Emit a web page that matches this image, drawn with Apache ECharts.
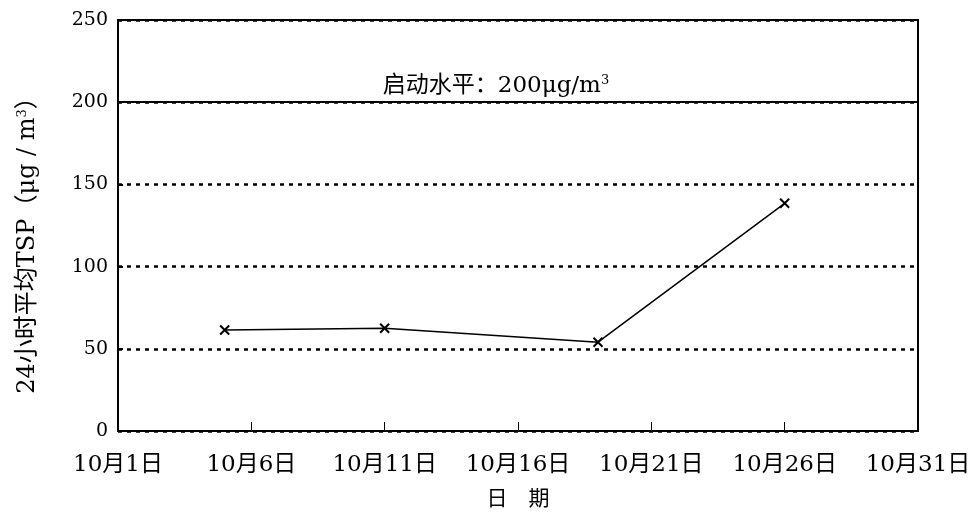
<!DOCTYPE html>
<html>
<head>
<meta charset="utf-8">
<script src="https://cdn.jsdelivr.net/npm/echarts@6/dist/echarts.min.js"></script>
<style>
  html, body { margin: 0; padding: 0; background: #fff; }
  #chart { width: 970px; height: 514px; }
</style>
</head>
<body>
<div id="chart"></div>
<script>
// days counted from 10月1日 (0 = 10月1日)
const dayOffsets = [4, 10, 18, 25];
const tspValues = [61.4, 62.5, 54, 138.5];
const yTicks = [0, 50, 100, 150, 200, 250];
const startLevel = 200;

const FONT = '"DejaVu Serif", "Noto Sans CJK SC", serif';

const myChart = echarts.init(document.getElementById('chart'));

const seriesData = dayOffsets.map((d, i) => [d, tspValues[i]]);
const supStyle = { fontSize: 13, verticalAlign: 'top', padding: [0, 0, 10, 0], fontFamily: FONT, color: '#000' };

myChart.setOption({
  animation: false,
  textStyle: { fontFamily: FONT, color: '#000' },
  grid: {
    left: 118, right: 52, top: 20, bottom: 83,
    outerBoundsMode: 'none',
    containLabel: false,
    show: true,
    borderColor: '#000',
    borderWidth: 2,
  },
  xAxis: {
    type: 'value',
    min: 0,
    max: 30,
    interval: 5,
    name: '日　期',
    nameLocation: 'middle',
    nameGap: 58,
    nameTextStyle: { fontFamily: FONT, fontSize: 21, color: '#000' },
    axisLine: { show: true, lineStyle: { color: '#000', width: 2 } },
    axisTick: { show: true, inside: true, length: 9, lineStyle: { color: '#000', width: 1 } },
    axisLabel: {
      margin: 23,
      fontFamily: FONT,
      fontSize: 23,
      color: '#000',
      formatter: (v) => '10月' + (v + 1) + '日',
    },
    splitLine: { show: false },
  },
  yAxis: {
    type: 'value',
    min: 0,
    max: yTicks[yTicks.length - 1],
    interval: 50,
    name: '24小时平均TSP（μg / m{sup|3}）',
    nameLocation: 'middle',
    nameGap: 78,
    nameRotate: 90,
    nameTextStyle: {
      fontFamily: FONT, fontSize: 24, color: '#000',
      padding: [0, 28, 0, 0],
      rich: { sup: supStyle },
    },
    axisLine: { show: true, lineStyle: { color: '#000', width: 2 } },
    axisTick: { show: true, inside: true, length: 5, lineStyle: { color: '#000', width: 2 } },
    axisLabel: {
      margin: 10,
      fontFamily: FONT,
      fontSize: 19,
      color: '#000',
    },
    splitLine: { show: true, lineStyle: { color: '#000', width: 2.5, type: [4, 5] } },
  },
  series: [
    {
      type: 'line',
      data: seriesData,
      symbol: 'path://M0,0L10,10M10,0L0,10',
      symbolSize: 9,
      itemStyle: { color: 'none', borderColor: '#000', borderWidth: 2 },
      lineStyle: { color: '#000', width: 1.5 },
      markLine: {
        silent: true,
        symbol: 'none',
        lineStyle: { color: '#000', width: 2, type: 'solid' },
        label: {
          show: true,
          position: 'insideMiddleTop',
          offset: [-22, 0],
          fontFamily: FONT,
          fontSize: 23,
          color: '#000',
          formatter: '启动水平：' + startLevel + 'μg/m{sup|3}',
          rich: { sup: supStyle },
        },
        data: [{ yAxis: startLevel }],
      },
    },
  ],
});
</script>
</body>
</html>
